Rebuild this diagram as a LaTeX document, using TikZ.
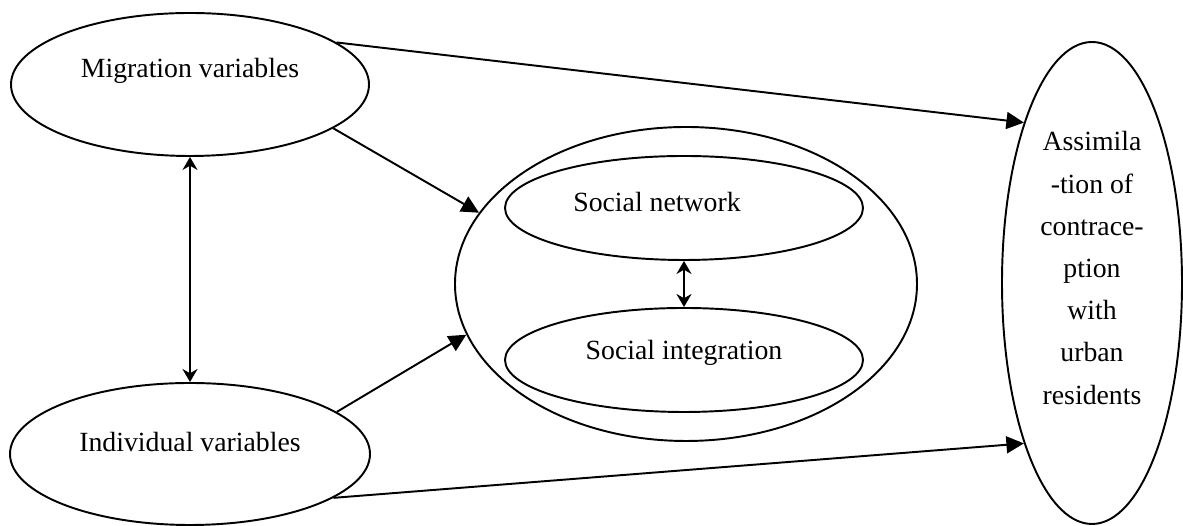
\documentclass[tikz,border=0pt]{standalone}
\usepackage{fontspec}
\setmainfont{Liberation Serif}
\usepackage{tikz}
\usetikzlibrary{shapes,arrows.meta,positioning,calc}

\begin{document}
\begin{tikzpicture}[
    font=\fontsize{15.8}{24}\selectfont,
    oval/.style={ellipse, draw, line width=1.1pt, inner sep=0pt},
    arrow/.style={-{Triangle[length=0.35cm,width=0.34cm]}, line width=1.1pt},
    both/.style={{Stealth[length=0.26cm,width=0.3cm]}-{Stealth[length=0.26cm,width=0.3cm]}, line width=1.1pt}
]
\useasboundingbox (0,0) rectangle (23.66,10.52);

% Left variables
\node[oval, minimum width=7.16cm, minimum height=2.86cm,
      label={[yshift=0.28cm]center:Migration variables}] (mig) at (3.80,8.83) {};
\node[oval, minimum width=7.2cm, minimum height=2.84cm,
      label={[yshift=0.24cm]center:Individual variables}] (ind) at (3.80,1.44) {};

% Social core
\node[oval, minimum width=9.24cm, minimum height=6.28cm] (core) at (13.72,4.84) {};
\node[oval, minimum width=7.16cm, minimum height=2.08cm,
      label={[xshift=-0.54cm, yshift=0.12cm]center:Social network}] (net) at (13.68,6.36) {};
\node[oval, minimum width=7.16cm, minimum height=2.08cm,
      label={[yshift=0.14cm]center:Social integration}] (integ) at (13.68,3.32) {};

% Outcome
\node[oval, minimum width=3.6cm, minimum height=9.64cm,
      label={[yshift=0.3cm, align=center]center:Assimila\\-tion of\\contrace-\\ption\\with\\urban\\residents}] (assim) at (21.84,4.86) {};

% Arrows
\draw[arrow] (mig.16) -- (assim.113);
\draw[arrow] (mig.-17) -- (core.161);
\draw[arrow] (ind.16) -- (core.193);
\draw[arrow] (ind.-17) -- (assim.247);
\draw[both] (mig.south) -- (ind.north);
\draw[both] (net.south) -- (integ.north);

\end{tikzpicture}
\end{document}
